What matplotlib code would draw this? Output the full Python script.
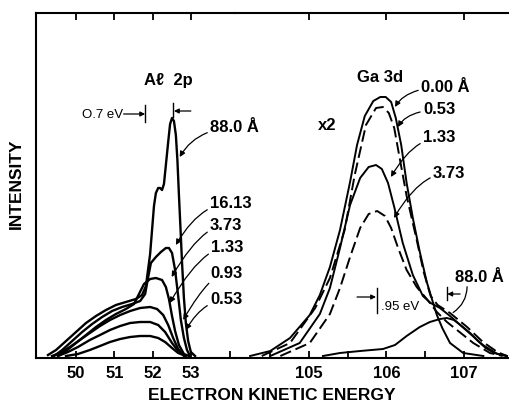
import matplotlib
matplotlib.use('Agg')
import matplotlib.pyplot as plt

plt.rcParams['font.family'] = ['Liberation Sans', 'DejaVu Sans']

# ---------------- data ----------------
# Al 2p spectra (left panel): electron kinetic energy (eV) and intensity (arb.)
al_labels = ['88.0 Å', '16.13', '3.73', '1.33', '0.93', '0.53']
al_E_880 = [49.27, 49.48, 49.74, 50.00, 50.26, 50.52, 50.78, 51.04, 51.30, 51.56, 51.72, 51.82,
            51.875, 51.93, 51.98, 52.03, 52.08, 52.14, 52.19, 52.24, 52.29, 52.34, 52.40, 52.45,
            52.50, 52.55, 52.60, 52.64, 52.68, 52.72, 52.76, 52.81, 52.86, 52.92, 52.99, 53.10]
al_I_880 = [1, 6, 15, 24, 33, 40, 46, 51, 54, 57, 61, 70,
            86, 102, 126, 150, 163, 168, 168, 166, 172, 191, 214, 232,
            238, 235, 221, 196, 161, 128, 94, 58, 33, 15, 4, 0]
al_E_1613 = [49.43, 49.64, 49.90, 50.16, 50.42, 50.68, 50.94, 51.20, 51.46, 51.67, 51.80, 51.875,
             51.95, 52.08, 52.21, 52.34, 52.42, 52.50, 52.58, 52.66, 52.73, 52.81, 52.89, 52.97]
al_I_1613 = [0, 6, 15, 24, 32, 39, 45, 49, 52, 55, 62, 78,
             93, 99, 104, 108, 108, 103, 86, 60, 36, 18, 6, 0]
al_E_373 = [49.53, 49.74, 50.00, 50.26, 50.52, 50.78, 51.04, 51.30, 51.51, 51.64, 51.77, 51.93,
            52.08, 52.24, 52.34, 52.42, 52.50, 52.58, 52.68, 52.81, 52.94]
al_I_373 = [0, 5, 13, 21, 29, 36, 42, 47, 52, 62, 72, 77,
            78, 76, 69, 57, 40, 25, 11, 2, 0]
al_E_133 = [49.375, 49.58, 49.84, 50.10, 50.36, 50.625, 50.885, 51.15, 51.41, 51.67, 51.93,
            52.11, 52.27, 52.40, 52.53, 52.66, 52.81]
al_I_133 = [0, 3, 9, 16, 23, 30, 36, 41, 45, 48, 49, 47, 41, 31, 18, 7, 0]
al_E_093 = [49.53, 49.79, 50.05, 50.36, 50.625, 50.885, 51.15, 51.41, 51.67, 51.93, 52.14,
            52.32, 52.50, 52.66, 52.84]
al_I_093 = [0, 4, 9, 16, 21, 26, 30, 33, 34, 34, 31, 24, 13, 5, 0]
al_E_053 = [49.74, 50.05, 50.36, 50.625, 50.885, 51.15, 51.41, 51.67, 51.93, 52.14, 52.32,
            52.50, 52.66, 52.86]
al_I_053 = [0, 2, 6, 10, 14, 17, 19, 20, 20, 18, 14, 8, 3, 0]

# Ga 3d spectra (right panel)
ga_labels = ['0.00 Å', '0.53', '1.33', '3.73', '88.0 Å']
ga_E_000 = [104.24, 104.50, 104.755, 105.01, 105.14, 105.27, 105.40, 105.53, 105.62, 105.72,
            105.83, 105.92, 105.99, 106.06, 106.12, 106.19, 106.26, 106.34, 106.43, 106.52,
            106.59, 106.65, 106.72, 106.82, 106.99, 107.25]
ga_I_000 = [0, 5, 18, 41, 61, 89, 126, 174, 211, 240,
            255, 259, 259, 254, 238, 211, 173, 138, 104, 74,
            56, 41, 28, 13, 3, 0]
ga_E_053 = [104.39, 104.755, 105.08, 105.27, 105.46, 105.59, 105.735, 105.865, 105.955, 106.03,
            106.10, 106.17, 106.26, 106.39, 106.48, 106.57, 106.66, 106.82, 107.04, 107.245,
            107.43, 107.555]
ga_I_053 = [0, 13, 48, 78, 126, 181, 231, 248, 249, 243,
            228, 198, 160, 116, 84, 60, 51, 43, 29, 14,
            4, 0]
ga_E_133 = [104.50, 104.88, 105.14, 105.27, 105.40, 105.53, 105.66, 105.77, 105.865, 105.94,
            106.02, 106.10, 106.21, 106.34, 106.47, 106.57, 106.69, 106.82, 107.04, 107.245,
            107.43, 107.555]
ga_I_133 = [0, 13, 42, 68, 108, 151, 178, 189, 191, 187,
            173, 149, 113, 81, 60, 53, 48, 40, 25, 11,
            2, 0]
ga_E_373 = [104.63, 105.01, 105.27, 105.40, 105.53, 105.66, 105.77, 105.88, 105.98, 106.06,
            106.15, 106.26, 106.39, 106.52, 106.65, 106.78, 106.91, 107.12, 107.335, 107.50]
ga_I_373 = [0, 13, 42, 68, 99, 128, 142, 145, 140, 128,
            108, 86, 69, 57, 44, 34, 26, 13, 3, 0]
ga_E_880 = [105.18, 105.40, 105.66, 105.955, 106.11, 106.26, 106.43, 106.56, 106.69, 106.78,
            106.87, 106.97, 107.08, 107.18, 107.28, 107.39, 107.555]
ga_I_880 = [0, 3, 5, 7, 11, 20, 29, 34, 37, 38,
            36, 30, 23, 15, 8, 3, 0]

left_ticks = [50, 51, 52, 53]
right_ticks = [105, 106, 107]

# ---------------- figure ----------------
W, H = 510, 405
fig = plt.figure(figsize=(W / 100, H / 100), dpi=100)


def fx(px):
    return px / W


def fy(py):
    return 1 - py / H


bottom_px, top_px, split_px = 357.5, 13, 235
axL = fig.add_axes([fx(36), fy(bottom_px), fx(split_px) - fx(36), fy(top_px) - fy(bottom_px)])
axR = fig.add_axes([fx(split_px), fy(bottom_px), 1 - fx(split_px), fy(top_px) - fy(bottom_px)])

for ax in (axL, axR):
    ax.set_facecolor('none')
    ax.set_ylim(-1.5, 343)
    ax.set_yticks([])
    ax.spines['right'].set_visible(False)
    for s in ('top', 'bottom', 'left'):
        ax.spines[s].set_linewidth(1.5)
axR.spines['left'].set_visible(False)

axL.set_xlim(48.958, 54.14)
axR.set_xlim(104.045, 107.594)

axL.set_xticks(left_ticks)
axL.set_xticks([54], minor=True)
axR.set_xticks(right_ticks)
axR.set_xticks([104.5, 105.5, 106.5], minor=True)
for ax in (axL, axR):
    ax.tick_params(which='major', direction='in', length=5, width=1.3, top=True, bottom=True,
                   left=False, labelsize=12, pad=6)
    ax.tick_params(which='minor', direction='in', length=5, width=1.3, top=False, bottom=True)
    for lab in ax.get_xticklabels():
        lab.set_fontweight('bold')

k = 'black'
lwL = 1.7
axL.plot(al_E_880, al_I_880, color=k, lw=lwL)
axL.plot(al_E_1613, al_I_1613, color=k, lw=lwL)
axL.plot(al_E_373, al_I_373, color=k, lw=lwL)
axL.plot(al_E_133, al_I_133, color=k, lw=lwL)
axL.plot(al_E_093, al_I_093, color=k, lw=lwL)
axL.plot(al_E_053, al_I_053, color=k, lw=lwL)

lwR = 1.4
dash = (0, (6, 2.5))
axR.plot(ga_E_000, ga_I_000, color=k, lw=lwR)
axR.plot(ga_E_053, ga_I_053, color=k, lw=lwR, linestyle=dash)
axR.plot(ga_E_133, ga_I_133, color=k, lw=lwR)
axR.plot(ga_E_373, ga_I_373, color=k, lw=lwR, linestyle=dash)
axR.plot(ga_E_880, ga_I_880, color=k, lw=lwR)

bold = dict(fontweight='bold', fontsize=12)
arrow = dict(arrowstyle='-|>', color=k, lw=0.9, mutation_scale=8, shrinkA=0, shrinkB=0,
             connectionstyle='angle3,angleA=0,angleB=60')

# left panel labels
axL.text(52.40, 276, 'Aℓ  2p', ha='center', va='center', **bold)
al_text_pos = [(53.49, 228), (53.49, 153), (53.49, 131), (53.52, 109), (53.49, 83), (53.49, 56)]
al_tips = [(52.70, 199), (52.60, 111), (52.49, 79), (52.44, 53), (52.79, 36), (52.86, 26)]
for lab, tp, tip in zip(al_labels, al_text_pos, al_tips):
    axL.annotate(lab, xy=tip, xytext=tp, ha='left', va='center', arrowprops=arrow, **bold)

# 0.7 eV marker
axL.text(51.22, 241, 'O.7 eV', ha='right', va='center', fontsize=9.5)
axL.annotate('', xy=(51.80, 242), xytext=(51.24, 242),
             arrowprops=dict(arrowstyle='-|>', color=k, lw=0.9, mutation_scale=7, shrinkA=0, shrinkB=0))
axL.plot([51.80, 51.80], [234, 251], color=k, lw=1.0)
axL.plot([52.53, 52.53], [239, 253], color=k, lw=1.0)
axL.annotate('', xy=(52.55, 245), xytext=(52.99, 245),
             arrowprops=dict(arrowstyle='-|>', color=k, lw=0.9, mutation_scale=7, shrinkA=0, shrinkB=0))

# right panel labels
axR.text(105.916, 279, 'Ga 3d', ha='center', va='center', **bold)
axR.text(105.23, 231, 'x2', ha='center', va='center', fontweight='bold', fontsize=12)
ga_text_pos = [(106.445, 269), (106.47, 246), (106.47, 218), (106.60, 183)]
ga_tips = [(106.11, 249), (106.148, 229), (106.058, 179), (106.097, 138)]
for lab, tp, tip in zip(ga_labels[:4], ga_text_pos, ga_tips):
    axR.annotate(lab, xy=tip, xytext=tp, ha='left', va='center', arrowprops=arrow, **bold)

axR.text(106.884, 79, ga_labels[4], ha='left', va='center', **bold)
axR.annotate('', xy=(106.83, 42), xytext=(107.04, 72),
             arrowprops=dict(arrowstyle='-', color=k, lw=0.9, connectionstyle='arc3,rad=-0.3'))

# .95 eV marker
axR.plot([105.874, 105.874], [43, 68], color=k, lw=1.0)
axR.annotate('', xy=(105.865, 59), xytext=(105.62, 59),
             arrowprops=dict(arrowstyle='-|>', color=k, lw=0.9, mutation_scale=7, shrinkA=0, shrinkB=0))
axR.text(105.93, 49, '.95 eV', ha='left', va='center', fontsize=9.5)
axR.plot([106.777, 106.777], [56, 69], color=k, lw=1.0)
axR.annotate('', xy=(106.785, 62), xytext=(106.95, 62),
             arrowprops=dict(arrowstyle='-|>', color=k, lw=0.9, mutation_scale=7, shrinkA=0, shrinkB=0))

# axis titles
fig.text(fx(272), fy(396), 'ELECTRON KINETIC ENERGY', ha='center', va='center',
         fontweight='bold', fontsize=12.5)
fig.text(fx(16), fy(184), 'INTENSITY', ha='center', va='center', rotation=90,
         fontweight='bold', fontsize=12.5)

fig.savefig('out.png', dpi=100)
